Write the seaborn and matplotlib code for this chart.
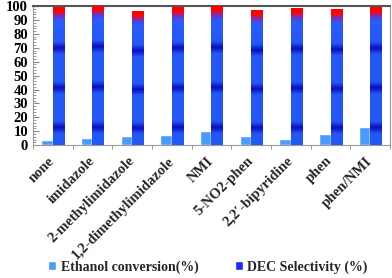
import numpy as np
import pandas as pd
import matplotlib
matplotlib.use("Agg")
import matplotlib.pyplot as plt
import seaborn as sns
from matplotlib.colors import LinearSegmentedColormap
from matplotlib.patches import Patch
from matplotlib.ticker import MultipleLocator, FixedLocator

# data
ligands = ["none", "imidazole", "2-methylimidazole", "1,2-dimethylimidazole",
           "NMI", "5-NO2-phen", "2,2\u2032-bipyridine", "phen", "phen/NMI"]
conversion = [3.6, 4.8, 6.7, 7.2, 10.3, 6.2, 4.1, 7.9, 13.2]
selectivity = [98.6, 100.0, 96.2, 98.6, 99.3, 96.9, 98.3, 97.8, 99.0]

conv_name = "Ethanol conversion(%)"
sel_name = "DEC Selectivity (%)"

df = pd.DataFrame({
    "ligand": ligands * 2,
    "value": conversion + selectivity,
    "series": [conv_name] * len(ligands) + [sel_name] * len(ligands),
})

sns.set_style("ticks")
plt.rcParams["font.family"] = ["Liberation Serif", "DejaVu Serif"]
plt.rcParams["font.weight"] = "bold"

fig = plt.figure(figsize=(3.92, 2.78), dpi=100)
ax = fig.add_axes([0.084, 0.478, 0.911, 0.5])

light = "#4a9bff"
dark = "#2458f5"
sns.barplot(data=df, x="ligand", y="value", hue="series", order=ligands,
            palette=[light, dark], width=0.58, saturation=1, ax=ax,
            legend=False, errorbar=None)

# banded blue -> red gradient on the selectivity bars
base = "#2458f5"
band = "#0a0cc4"
grad = LinearSegmentedColormap.from_list("sel", [
    (0.0, base), (0.08, base), (0.125, band), (0.17, base),
    (0.37, base), (0.415, band), (0.46, base),
    (0.66, base), (0.705, band), (0.75, base),
    (0.90, "#2a5cff"), (0.935, "#6a34c8"), (0.96, "#e01030"),
    (0.975, "#ff0000"), (1.0, "#ff0000")])
sel_bars = ax.patches[len(ligands):2 * len(ligands)]
for p in sel_bars:
    x0, w, h = p.get_x(), p.get_width(), p.get_height()
    col = np.linspace(0, 1, 300).reshape(-1, 1)
    ax.imshow(col, extent=[x0, x0 + w, 0, h], origin="lower", aspect="auto",
              cmap=grad, vmin=0, vmax=1, zorder=3)

ax.set_xlim(-0.5, len(ligands) - 0.5)
ax.set_ylim(0, 100)
ax.set_xlabel("")
ax.set_ylabel("")

ax.yaxis.set_major_locator(MultipleLocator(10))
ax.yaxis.set_minor_locator(MultipleLocator(2))
ax.tick_params(axis="y", which="both", direction="in", colors="#888888",
               labelcolor="black", labelsize=10.5)
ax.tick_params(axis="y", which="major", length=4)
ax.tick_params(axis="y", which="minor", length=2)

ax.xaxis.set_minor_locator(FixedLocator(np.arange(-0.5, len(ligands), 1)))
ax.tick_params(axis="x", which="major", length=0, pad=10)
ax.tick_params(axis="x", which="minor", length=3, direction="out",
               colors="#888888")
ax.set_xticks(range(len(ligands)))
ax.set_xticklabels(ligands, rotation=45, ha="right", va="center",
                   rotation_mode="anchor", fontsize=10.5, fontweight="bold")
for lab in ax.get_yticklabels():
    lab.set_fontweight("bold")

for side in ["left", "bottom", "right"]:
    ax.spines[side].set_color("#999999")
    ax.spines[side].set_linewidth(0.8)
ax.spines["top"].set_color("#555555")
ax.spines["top"].set_linewidth(1.5)

handles = [Patch(facecolor=light, label=conv_name),
           Patch(facecolor="#1a2aff", label=sel_name)]
fig.legend(handles=handles, loc="lower center", bbox_to_anchor=(0.53, -0.03),
           ncol=2, frameon=False, handlelength=0.6, handleheight=0.6,
           handletextpad=0.3, columnspacing=2.6,
           prop={"family": "Liberation Serif", "weight": "bold", "size": 10})

fig.savefig("out.png", dpi=100)
